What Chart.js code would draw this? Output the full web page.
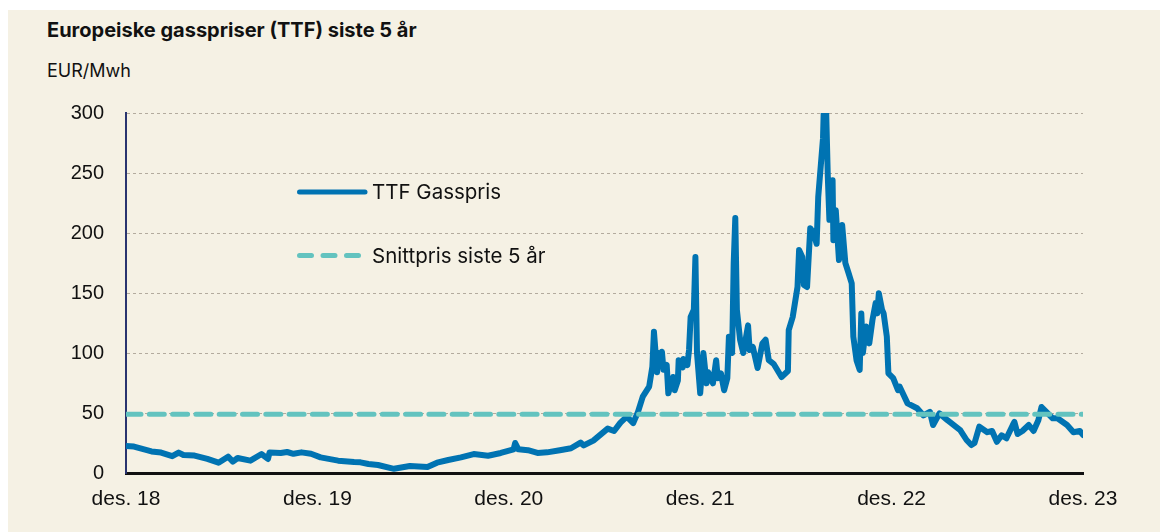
<!DOCTYPE html>
<html lang="no">
<head>
<meta charset="utf-8">
<script src="https://cdn.jsdelivr.net/npm/chart.js"></script>
<style>
  body { margin: 0; background: #fff; }
  #boks { position: absolute; left: 8px; top: 10px; width: 1152px; height: 522px; background: #f5f1e4; }
  #tittel { position: absolute; left: 39px; top: 8px; font: 700 20px Inter, sans-serif; color: #111; white-space: nowrap; }
  #enhet { position: absolute; left: 39px; top: 50px; font: 400 18px Inter, sans-serif; color: #111; }
  canvas { position: absolute; left: 0; top: 0; }
</style>
</head>
<body>
<div id="boks">
  <div id="tittel">Europeiske gasspriser (TTF) siste 5 år</div>
  <div id="enhet">EUR/Mwh</div>
  <canvas id="graf" width="1152" height="522"></canvas>
</div>
<script>
// x = måneder etter des. 18
const maaned = [
  0, 0.5, 1.6, 2.2, 2.9, 3.3, 3.6, 4.3, 5.1, 5.8,
  6.4, 6.7, 7.0, 7.8, 8.5, 8.9, 9.0, 9.7, 10.1, 10.5,
  11.0, 11.6, 12.2, 13.3, 14.3, 14.7, 15.2, 15.8, 16.8, 17.8,
  18.9, 19.5, 20.2, 21.0, 21.8, 22.7, 23.5, 24.3, 24.4, 24.6,
  25.2, 25.8, 26.4, 27.2, 27.9, 28.5, 28.7, 29.3, 30.2, 30.6,
  31.0, 31.4, 31.8, 32.1, 32.4, 32.8, 33.0, 33.1, 33.3, 33.4,
  33.5, 33.6, 33.7, 33.9, 34.0, 34.3, 34.4, 34.6, 34.65, 34.9,
  34.95, 35.2, 35.3, 35.4, 35.6, 35.7, 35.8, 36.0, 36.2, 36.4,
  36.5, 36.8, 37.0, 37.1, 37.3, 37.5, 37.7, 37.8, 38.0, 38.1,
  38.2, 38.3, 38.5, 38.7, 39.0, 39.1, 39.3, 39.6, 39.9, 40.1,
  40.3, 40.6, 41.1, 41.5, 41.55, 41.8, 42.1, 42.2, 42.4, 42.5,
  42.7, 42.9, 43.1, 43.3, 43.4, 43.7, 43.8, 43.9, 44.0, 44.1,
  44.3, 44.35, 44.5, 44.7, 44.9, 45.1, 45.3, 45.5, 45.6, 45.8,
  46.0, 46.1, 46.2, 46.4, 46.6, 46.8, 47.0, 47.1, 47.2, 47.4,
  47.5, 47.7, 47.8, 48.1, 48.4, 48.5, 48.7, 49.0, 49.6, 50.0,
  50.4, 50.6, 51.0, 51.5, 52.3, 52.7, 53.0, 53.2, 53.5, 54.0,
  54.3, 54.6, 54.9, 55.2, 55.6, 55.7, 55.9, 56.2, 56.6, 56.9,
  57.2, 57.4, 57.7, 58.1, 58.4, 59.0, 59.4, 59.8, 60.0
];
const ttfPris = [
  22.5, 22, 18, 17, 14, 17, 15, 14.5, 11.7, 8.6,
  13.6, 9.5, 12.5, 10.3, 15.8, 11.7, 17, 16.7, 17.5, 16,
  17.2, 16, 13, 10.3, 9.2, 8.9, 7.5, 6.7, 3.5, 5.8,
  5, 8.6, 10.8, 13, 15.8, 14.4, 16.7, 19.7, 25, 19.7,
  19, 16.7, 17.2, 19, 20.6, 25.3, 23, 27, 37, 35,
  42, 47, 41.6, 51, 63.6, 72, 88.6, 117.8, 84, 100,
  94, 101, 86, 90, 66.4, 80, 69, 77, 94, 88,
  95, 90, 102.5, 130, 136, 180, 99.7, 66.4, 100, 74.7,
  84, 74.7, 94, 79, 83, 69, 79, 113.6, 100, 175,
  212.5, 136, 111, 100, 123, 102.5, 105, 87.5, 108, 111,
  94, 91, 80, 85, 119, 130, 155, 185.8, 180, 156.7,
  155, 204, 200, 191, 230, 279, 330, 300, 247, 211,
  244, 194, 219, 177.5, 206.7, 175, 166.7, 158, 113.6, 94,
  86, 133, 100, 122, 108, 127.5, 141.7, 133, 149.7, 136,
  133, 113.6, 83, 79, 69, 72, 66.4, 58, 54, 48,
  51, 40, 49.7, 44, 35.8, 27.5, 23.3, 25, 38.6, 34,
  35, 26, 31.4, 28.9, 40, 42.5, 32.5, 35, 40, 35,
  44, 55, 51, 45.6, 45.6, 40, 34, 35, 31.7
];
const snittpris = 49;
const xEtiketter = ["des. 18", "des. 19", "des. 20", "des. 21", "des. 22", "des. 23"];
const serieNavn = ["TTF Gasspris", "Snittpris siste 5 år"];

const blaa = "#0073b2";
const turkis = "#63c3bf";

// legende inne i plottet
const legende = {
  id: "legende",
  afterDraw(chart) {
    const ctx = chart.ctx;
    const rader = [
      { y: 182, farge: blaa, dash: [] },
      { y: 245.5, farge: turkis, dash: [12, 11.5] }
    ];
    rader.forEach((r, i) => {
      ctx.save();
      ctx.strokeStyle = r.farge;
      ctx.lineWidth = 5;
      ctx.lineCap = "round";
      ctx.setLineDash(r.dash);
      ctx.beginPath();
      ctx.moveTo(291.5, r.y);
      ctx.lineTo(357, r.y);
      ctx.stroke();
      ctx.fillStyle = "#111";
      ctx.font = "20.5px Inter";
      ctx.textBaseline = "middle";
      ctx.fillText(serieNavn[i], 364, r.y + 1);
      ctx.restore();
    });
  }
};

new Chart(document.getElementById("graf"), {
  type: "line",
  data: {
    datasets: [
      {
        label: serieNavn[0],
        data: maaned.map((m, i) => ({ x: m, y: ttfPris[i] })),
        borderColor: blaa,
        borderWidth: 6,
        borderJoinStyle: "round",
        borderCapStyle: "round",
        pointRadius: 0,
        order: 1
      },
      {
        label: serieNavn[1],
        data: [{ x: 0, y: snittpris }, { x: 60, y: snittpris }],
        borderColor: turkis,
        borderWidth: 5,
        borderDash: [15, 8.3],
        borderCapStyle: "round",
        pointRadius: 0,
        order: 0
      }
    ]
  },
  options: {
    responsive: false,
    animation: false,
    layout: { padding: { left: 0, top: 103, right: 77, bottom: 0 } },
    plugins: { legend: { display: false }, tooltip: { enabled: false } },
    scales: {
      x: {
        type: "linear",
        min: 0,
        max: 60,
        afterFit: (s) => { s.height = 59; },
        grid: { display: false, drawTicks: false },
        border: { color: "#111", width: 3 },
        ticks: {
          stepSize: 12,
          padding: 14,
          maxRotation: 0,
          color: "#111",
          font: { family: "Liberation Sans", size: 21 },
          callback: (v) => xEtiketter[v / 12]
        }
      },
      y: {
        min: 0,
        max: 300,
        afterFit: (s) => { s.width = 118; },
        grid: {
          drawTicks: false,
          color: (c) => (c.tick.value === 0 ? "rgba(0,0,0,0)" : "#b3ab9e")
        },
        border: { color: "#29346f", width: 2, dash: [3, 3] },
        ticks: {
          stepSize: 50,
          padding: 22,
          color: "#111",
          font: { family: "Liberation Sans", size: 20 }
        }
      }
    }
  },
  plugins: [legende]
});
</script>
</body>
</html>
